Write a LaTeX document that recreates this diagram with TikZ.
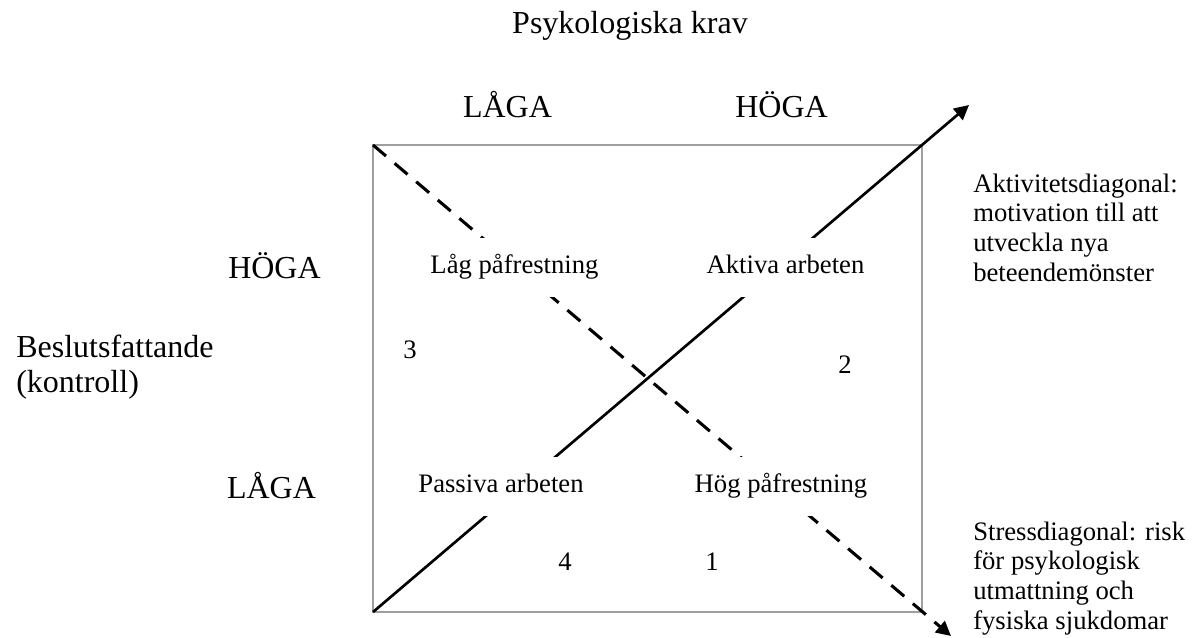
\documentclass[tikz,border=0pt]{standalone}
\usepackage{fontspec}
\setmainfont{Liberation Serif}
\usetikzlibrary{arrows.meta}
\begin{document}
\begin{tikzpicture}[x=0.75pt,y=-0.75pt,
  axis/.style={font=\fontsize{24}{28}\selectfont, anchor=base, inner sep=0pt},
  quadlabel/.style={font=\fontsize{20}{24}\selectfont, anchor=base, fill=white, text height=14pt, text depth=5.5pt, inner ysep=12.5pt, inner xsep=8pt},
  num/.style={font=\fontsize{20}{24}\selectfont, anchor=base, inner sep=0pt},
  sidetext/.style={font=\fontsize{20}{22.2}\selectfont, anchor=base west, align=left, inner sep=0pt},
  solidarrow/.style={line width=2pt, -{Triangle[length=11pt,width=11pt]}},
  dasharrow/.style={line width=2.3pt, dash pattern=on 12.75pt off 8.5pt, -{Triangle[length=11pt,width=11pt]}},
  frame/.style={draw=gray!75, line width=1.1pt}]
\useasboundingbox (0,0) rectangle (1202,637);
% frame
\coordinate (tl) at (373,145);
\coordinate (br) at (922,612);
\coordinate (bl) at (373,612);
\coordinate (tr) at (922,145);
\draw[frame] (tl) rectangle (br);
% arrow ends
\coordinate (soltip) at (969,105);
\coordinate (dashtip) at (951,636);
\draw[solidarrow] (bl) -- (soltip);
\draw[dasharrow] (tl) -- (dashtip);
% titles
\node[axis] (title) at (630,33) {Psykologiska krav};
\node[axis] (lowtop) at (507.5,117) {LÅGA};
\node[axis] (hightop) at (781.5,117) {HÖGA};
\node[axis] (highleft) at (274.5,278) {HÖGA};
\node[axis] (lowleft) at (271.5,498) {LÅGA};
\node[font=\fontsize{24}{26}\selectfont, anchor=base west, align=left, inner sep=0pt] (ctrl) at (16,392) {Beslutsfattande\\(kontroll)};
% quadrant labels
\node[quadlabel] (q3) at (514.5,273) {Låg påfrestning};
\node[quadlabel] (q2) at (785.5,273) {Aktiva arbeten};
\node[quadlabel] (q4) at (501,492) {Passiva arbeten};
\node[quadlabel] (q1) at (781,492) {Hög påfrestning};
% numbers
\node[num] (n3) at (410,358) {3};
\node[num] (n2) at (845,373) {2};
\node[num] (n4) at (565,570) {4};
\node[num] (n1) at (712,570) {1};
% side texts
\node[sidetext] (act) at (973,281) {Aktivitetsdiagonal:\\motivation till att\\utveckla nya\\beteendemönster};
\node[sidetext] (stress) at (973,629) {Stressdiagonal: risk\\för psykologisk\\utmattning och\\fysiska sjukdomar};
\end{tikzpicture}
\end{document}
